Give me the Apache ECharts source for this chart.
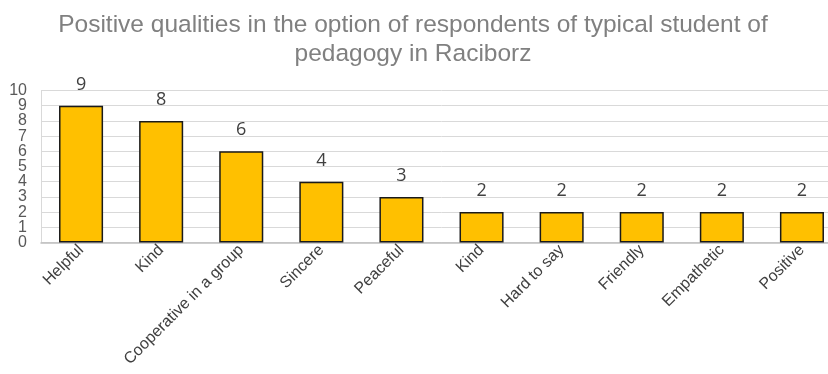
<!DOCTYPE html>
<html>
<head>
<meta charset="utf-8">
<script src="https://cdn.jsdelivr.net/npm/echarts@6/dist/echarts.min.js"></script>
<style>
  html, body { margin: 0; padding: 0; background: #ffffff; overflow: hidden; }
  /* the plot runs past the right edge of the 828px view, so the canvas is wider */
  #chart { width: 842px; height: 374px; }
</style>
</head>
<body>
<div id="chart"></div>
<script>
// Survey answers: positive qualities of a typical pedagogy student
const categories = ['Helpful', 'Kind', 'Cooperative in a group', 'Sincere', 'Peaceful',
                    'Kind', 'Hard to say', 'Friendly', 'Empathetic', 'Positive'];
const counts = [9, 8, 6, 4, 3, 2, 2, 2, 2, 2];
const yTicks = [0, 1, 2, 3, 4, 5, 6, 7, 8, 9, 10];

const yMin = yTicks[0];
const yMax = yTicks[yTicks.length - 1];

const labelFont = {
  fontFamily: 'Liberation Sans, Arial, sans-serif',
  fontSize: 16,
  color: '#595959'
};

// The tick labels sit closer together than their own height, so even and odd
// values are drawn by two stacked axes to keep every number visible.
function tickAxis(parity, withGrid) {
  return {
    type: 'value',
    position: 'left',
    min: yMin,
    max: yMax,
    interval: 1,
    axisLine: { show: withGrid, lineStyle: { color: '#d9d9d9', width: 1 } },
    axisTick: { show: false },
    splitLine: { show: withGrid, lineStyle: { color: '#d9d9d9', width: 1 } },
    axisLabel: Object.assign({
      showMinLabel: true,
      showMaxLabel: true,
      margin: 14,
      formatter: v => (yTicks.includes(v) && v % 2 === parity) ? String(v) : ''
    }, labelFont)
  };
}

const chart = echarts.init(document.getElementById('chart'), null, { renderer: 'canvas' });

chart.setOption({
  animation: false,
  backgroundColor: '#ffffff',
  title: {
    text: 'Positive qualities in the option of respondents of typical student of\npedagogy in Raciborz',
    left: 408,
    textAlign: 'center',
    top: 6,
    textStyle: {
      fontFamily: 'Liberation Sans, Arial, sans-serif',
      fontSize: 24.5,
      fontWeight: 'normal',
      color: '#808080',
      lineHeight: 29
    }
  },
  grid: {
    left: 41,
    right: 0,
    top: 90.5,
    bottom: 131.5,
    containLabel: false
  },
  xAxis: {
    type: 'category',
    data: categories,
    axisLine: { show: true, lineStyle: { color: '#bfbfbf', width: 1.5 } },
    axisTick: { show: false },
    axisLabel: {
      rotate: 45,
      interval: 0,
      margin: 5,
      fontFamily: 'Liberation Sans, Arial, sans-serif',
      fontSize: 16,
      color: '#404040'
    }
  },
  yAxis: [tickAxis(0, true), tickAxis(1, false)],
  series: [{
    type: 'bar',
    data: counts,
    yAxisIndex: 0,
    barWidth: '55%',
    itemStyle: {
      color: '#ffc000',
      borderColor: '#1a1a1a',
      borderWidth: 1.5
    },
    label: {
      show: true,
      position: 'top',
      distance: 12,
      fontFamily: 'Open Sans, Noto Sans, sans-serif',
      fontSize: 18,
      color: '#404040'
    }
  }]
});
</script>
</body>
</html>
